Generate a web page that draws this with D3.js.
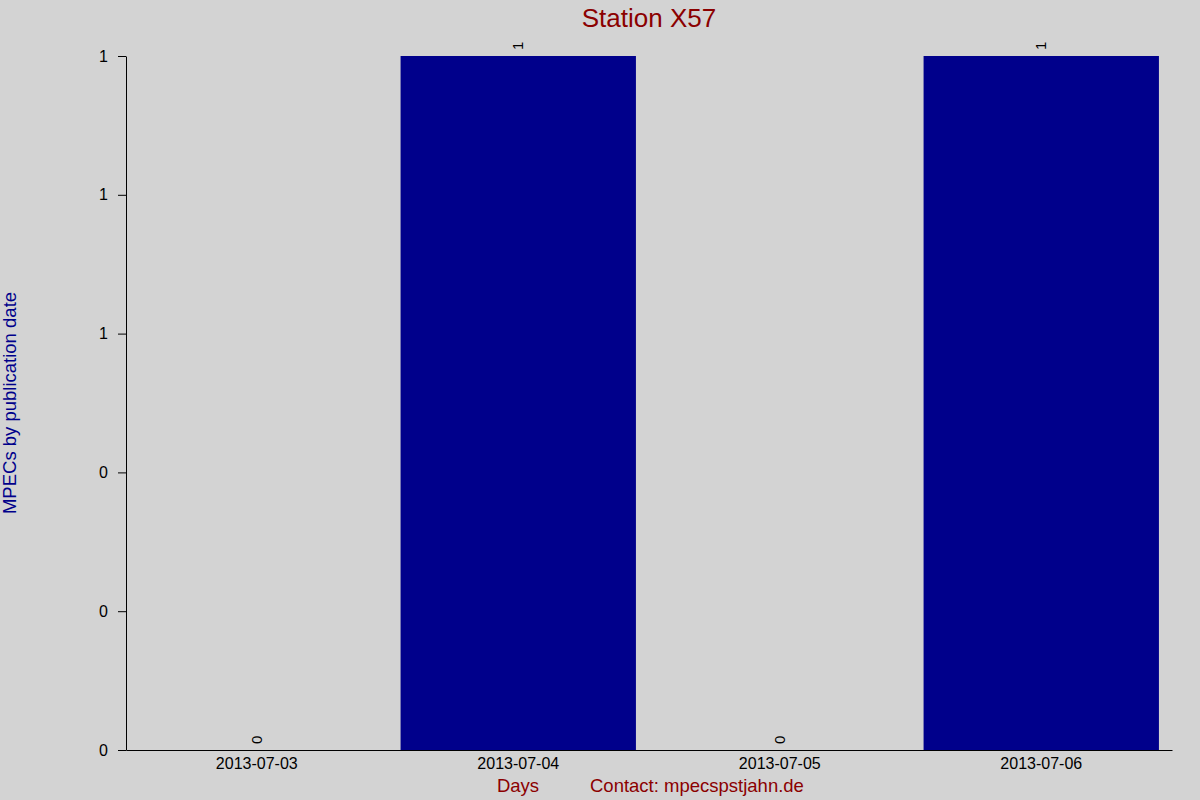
<!DOCTYPE html>
<html>
<head>
<meta charset="utf-8">
<script src="https://cdn.jsdelivr.net/npm/d3@7"></script>
<style>
  body { margin: 0; background: #d3d3d3; }
  text { font-family: "Liberation Sans", Arial, sans-serif; }
</style>
</head>
<body>
<div id="chart"></div>
<script>
var days = ["2013-07-03", "2013-07-04", "2013-07-05", "2013-07-06"];
var counts = [0, 1, 0, 1];
var yTicks = [0, 0.2, 0.4, 0.6, 0.8, 1];

var width = 1200,
    height = 800,
    margin = {top: 56, right: 28, bottom: 50, left: 126};

var svg = d3.select("#chart")
    .append("svg")
    .attr("width", width)
    .attr("height", height)
    .style("background", "#d3d3d3");

var x = d3.scaleBand()
    .domain(days)
    .range([margin.left, width - margin.right])
    .paddingInner(0.1)
    .paddingOuter(0.05);

var y = d3.scaleLinear()
    .domain([0, 1])
    .range([height - margin.bottom, margin.top]);

// bars
svg.append("g")
    .selectAll("rect")
    .data(counts)
    .enter()
    .append("rect")
    .attr("x", function(d, i) { return x(days[i]); })
    .attr("y", function(d) { return y(d); })
    .attr("width", x.bandwidth())
    .attr("height", function(d) { return y(0) - y(d); })
    .attr("fill", "#00008b");

// value labels, turned on their side
svg.append("g")
    .selectAll("text")
    .data(counts)
    .enter()
    .append("text")
    .attr("transform", function(d, i) {
        var cx = x(days[i]) + x.bandwidth() / 2;
        return "translate(" + (cx + 5) + "," + (y(d) - 6) + ")rotate(-90)";
    })
    .attr("text-anchor", "start")
    .attr("font-size", "15px")
    .attr("fill", "#000")
    .text(function(d) { return d; });

// axes
var xAxis = svg.append("g")
    .attr("transform", "translate(0," + (height - margin.bottom) + ")")
    .call(d3.axisBottom(x).tickSize(0).tickPadding(8));
xAxis.select(".domain").attr("stroke", "#000").attr("stroke-width", 1.2);
xAxis.selectAll("text").attr("font-size", "16px").attr("fill", "#000")
    .style("font-family", "Liberation Sans, Arial, sans-serif");

var yAxis = svg.append("g")
    .attr("transform", "translate(" + margin.left + ",0)")
    .call(d3.axisLeft(y).tickValues(yTicks).tickFormat(d3.format(".0f")).tickSizeInner(8).tickSizeOuter(0).tickPadding(10));
yAxis.select(".domain").attr("stroke", "#000");
yAxis.selectAll("text").attr("font-size", "16px").attr("fill", "#000")
    .style("font-family", "Liberation Sans, Arial, sans-serif");

// titles
svg.append("text")
    .attr("x", 649)
    .attr("y", 27)
    .attr("text-anchor", "middle")
    .attr("font-size", "26px")
    .attr("fill", "#8b0000")
    .text("Station X57");

svg.append("text")
    .attr("transform", "translate(16," + 403 + ")rotate(-90)")
    .attr("text-anchor", "middle")
    .attr("font-size", "18.5px")
    .attr("fill", "#00008b")
    .text("MPECs by publication date");

svg.append("text")
    .attr("x", 518)
    .attr("y", 792)
    .attr("text-anchor", "middle")
    .attr("font-size", "18.5px")
    .attr("fill", "#8b0000")
    .text("Days");

svg.append("text")
    .attr("x", 590)
    .attr("y", 792)
    .attr("text-anchor", "start")
    .attr("font-size", "18.5px")
    .attr("fill", "#8b0000")
    .text("Contact: mpecspstjahn.de");
</script>
</body>
</html>
